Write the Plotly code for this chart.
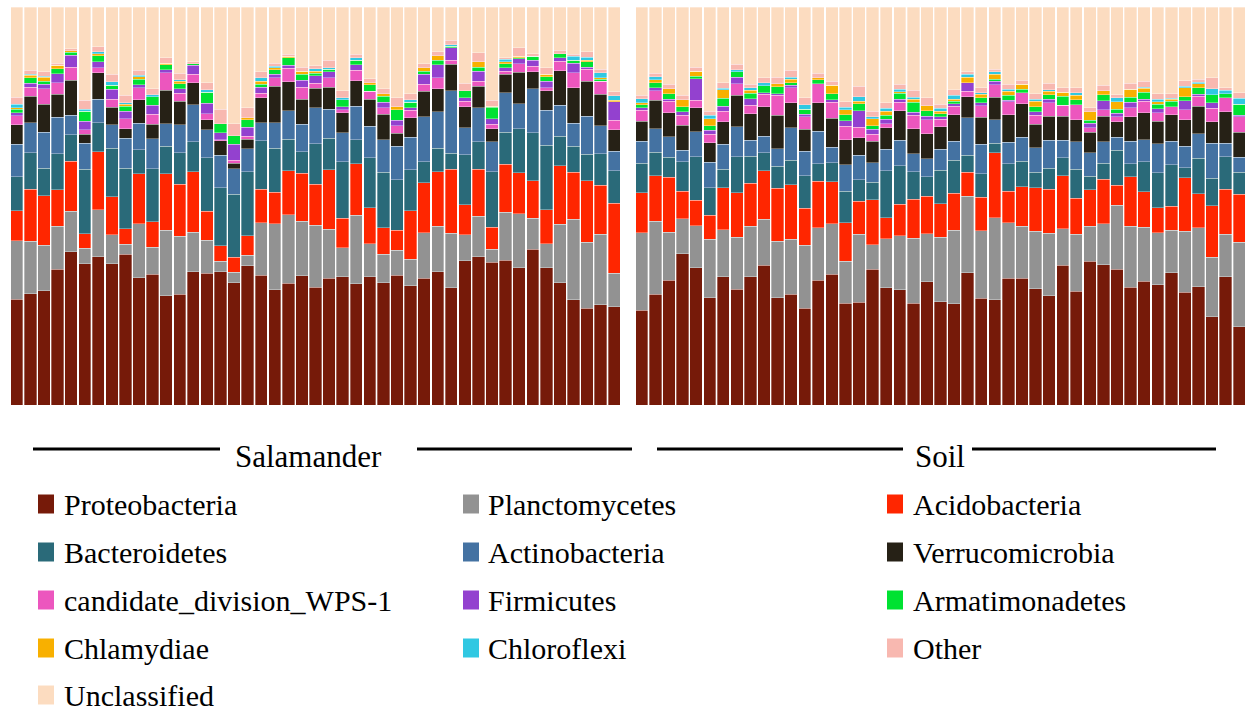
import plotly.graph_objects as go

# Relative abundance (%) of bacterial phyla per sample.
# First 45 values: salamander skin samples; last 45 values: soil samples.
groups = ["Salamander", "Soil"]
n_per_group = 45

phyla = [
    "Proteobacteria", "Planctomycetes", "Acidobacteria", "Bacteroidetes",
    "Actinobacteria", "Verrucomicrobia", "candidate_division_WPS-1",
    "Firmicutes", "Armatimonadetes", "Chlamydiae", "Chloroflexi",
    "Other", "Unclassified",
]

colors = [
    "#761a09", "#929292", "#ff2600", "#2a6a79", "#4472a2", "#262116",
    "#ec56be", "#9341cf", "#00e232", "#f8b000", "#30c8e2", "#f8b8b0",
    "#fcdcc0",
]

proteobacteria = [
    26.5, 28.0, 28.7, 34.1, 38.5, 35.4, 37.2, 35.4, 37.9, 32.0, 32.8, 27.4, 27.8, 33.5, 33.2,
    33.5, 30.7, 35.0, 32.6, 28.9, 30.5, 32.5, 29.5, 31.8, 32.2, 30.5, 32.2, 30.7, 32.6, 30.0,
    31.8, 33.5, 29.5, 36.2, 37.2, 35.8, 36.4, 34.5, 39.1, 34.5, 30.7, 26.5, 24.3, 25.1, 24.7,
    23.8, 27.8, 31.4, 38.1, 34.5, 26.9, 32.2, 29.0, 32.2, 35.1, 26.9, 27.8, 24.3, 31.4, 32.9,
    25.5, 25.9, 34.1, 29.5, 28.9, 25.5, 31.0, 25.9, 25.5, 33.2, 26.9, 26.5, 31.8, 31.8, 29.3,
    27.4, 35.1, 28.6, 36.2, 35.3, 34.1, 29.5, 31.1, 30.3, 33.2, 28.3, 29.7, 22.2, 32.2, 19.7,
]
planctomycetes = [
    14.7, 13.2, 11.5, 10.9, 10.2, 3.9, 11.9, 7.3, 2.5, 13.6, 6.8, 16.5, 14.7, 9.9, 8.2,
    2.7, 2.6, 2.7, 13.1, 16.6, 17.3, 13.7, 15.6, 12.3, 7.3, 17.2, 8.4, 7.2, 6.3, 6.7,
    11.5, 11.5, 13.6, 6.6, 10.2, 3.3, 12.0, 13.6, 7.8, 6.1, 14.7, 20.2, 16.6, 17.7, 8.4,
    19.5, 18.4, 12.0, 8.8, 10.5, 14.7, 11.9, 13.1, 12.7, 11.5, 14.3, 13.9, 15.9, 13.2, 12.7,
    10.6, 17.0, 6.1, 12.3, 13.6, 16.3, 12.0, 16.3, 18.4, 19.2, 17.0, 20.5, 14.0, 13.1, 14.4,
    15.7, 9.2, 14.3, 8.8, 10.3, 16.0, 15.4, 13.5, 13.1, 10.7, 15.4, 14.9, 14.9, 10.6, 21.2,
]
acidobacteria = [
    7.5, 13.0, 12.4, 9.2, 12.6, 3.6, 14.5, 9.6, 3.8, 12.6, 6.4, 14.2, 13.0, 15.2, 7.3,
    3.8, 3.8, 4.9, 8.4, 7.9, 11.0, 12.0, 10.3, 14.9, 7.4, 13.0, 9.0, 6.7, 5.0, 12.1,
    12.5, 13.7, 16.1, 7.5, 11.8, 5.5, 12.1, 10.2, 9.4, 8.5, 14.6, 11.9, 15.5, 12.2, 17.6,
    10.0, 11.5, 13.8, 6.9, 6.4, 6.0, 10.5, 11.2, 10.7, 12.1, 13.3, 13.7, 9.2, 11.7, 10.5,
    9.6, 8.4, 11.3, 5.3, 7.9, 9.8, 9.4, 8.4, 9.4, 6.1, 8.4, 16.4, 7.8, 10.0, 10.9,
    11.0, 13.2, 9.1, 9.1, 11.1, 5.0, 12.4, 9.0, 6.3, 6.1, 13.5, 8.5, 13.0, 11.3, 12.1,
]
bacteroidetes = [
    8.5, 9.2, 6.9, 9.0, 6.7, 16.2, 7.3, 12.1, 15.2, 6.0, 13.4, 6.9, 7.9, 7.5, 13.5,
    14.6, 15.8, 16.1, 12.2, 11.0, 7.9, 5.4, 10.2, 7.9, 14.2, 6.0, 12.6, 14.0, 12.7, 10.4,
    5.3, 5.9, 4.0, 12.6, 6.9, 14.0, 8.0, 11.1, 12.1, 16.2, 7.4, 6.5, 6.7, 7.9, 8.2,
    7.5, 5.9, 5.0, 7.4, 11.0, 6.9, 4.7, 9.0, 6.9, 4.5, 5.5, 6.1, 8.2, 4.4, 4.8,
    8.0, 5.4, 4.4, 11.7, 9.7, 6.9, 4.9, 8.4, 8.2, 4.2, 5.9, 2.4, 6.9, 6.4, 4.0,
    5.3, 4.5, 7.2, 3.4, 4.1, 8.8, 3.3, 7.5, 8.8, 10.4, 2.5, 9.0, 6.9, 8.2, 5.5,
]
actinobacteria = [
    8.2, 7.5, 9.0, 9.2, 4.9, 6.5, 5.9, 5.9, 7.5, 6.7, 7.5, 5.6, 7.1, 9.4, 7.0,
    8.2, 6.4, 5.7, 4.5, 6.5, 7.1, 6.9, 9.0, 7.3, 7.3, 8.4, 7.9, 8.1, 8.4, 8.2,
    11.3, 9.2, 15.7, 6.7, 8.6, 7.5, 10.0, 6.3, 11.1, 8.8, 7.9, 5.8, 9.5, 7.0, 4.9,
    5.5, 5.9, 5.2, 2.9, 6.3, 6.4, 6.3, 7.5, 3.9, 4.2, 4.4, 8.1, 6.2, 8.1, 3.8,
    6.6, 6.1, 4.9, 5.4, 6.4, 4.6, 4.6, 5.2, 4.8, 9.5, 7.4, 5.9, 5.4, 6.0, 6.1,
    7.1, 4.4, 7.0, 5.9, 5.3, 3.3, 5.6, 5.6, 7.3, 5.9, 5.4, 6.1, 8.8, 3.3, 3.8,
]
verrucomicrobia = [
    4.9, 6.7, 7.1, 5.7, 8.8, 2.3, 6.7, 4.4, 2.5, 5.9, 3.6, 8.4, 5.9, 5.5, 2.6,
    3.6, 1.4, 2.4, 6.3, 9.1, 7.4, 6.3, 4.9, 5.5, 5.0, 6.4, 6.8, 6.4, 3.3, 4.8,
    6.4, 5.7, 6.7, 5.4, 5.4, 3.3, 4.6, 7.9, 4.2, 5.0, 8.6, 8.9, 8.8, 7.9, 5.3,
    5.0, 7.1, 6.0, 6.3, 6.0, 4.9, 5.6, 7.9, 6.7, 7.4, 8.4, 6.4, 5.5, 7.2, 7.4,
    6.3, 4.4, 5.4, 5.4, 7.3, 6.3, 6.2, 5.7, 6.7, 5.2, 6.9, 5.6, 6.9, 8.4, 5.9,
    6.0, 6.1, 5.5, 5.2, 6.5, 3.9, 6.1, 6.7, 5.7, 6.6, 6.7, 6.9, 5.4, 7.9, 6.3,
]
wps_1 = [
    2.2, 2.3, 3.8, 2.9, 3.2, 1.1, 1.3, 2.1, 2.5, 3.0, 2.5, 4.4, 2.0, 2.1, 1.4,
    0.3, 0.8, 0.8, 1.1, 2.2, 3.3, 3.0, 1.3, 2.4, 0.8, 2.7, 2.0, 1.7, 1.9, 1.9,
    1.8, 2.8, 1.0, 1.3, 1.3, 1.1, 0.8, 2.1, 1.4, 0.7, 2.4, 3.8, 3.0, 3.3, 2.5,
    2.7, 2.5, 2.9, 2.5, 1.9, 2.1, 2.7, 2.9, 2.1, 3.1, 5.0, 3.7, 3.1, 4.8, 4.0,
    3.4, 2.6, 1.8, 1.1, 2.2, 3.3, 3.6, 1.9, 2.2, 1.4, 2.9, 3.2, 3.3, 2.8, 2.3,
    3.4, 2.8, 3.8, 1.1, 1.6, 1.3, 2.3, 2.9, 2.1, 2.1, 2.5, 2.6, 3.3, 3.6, 3.9,
]
firmicutes = [
    0.8, 1.0, 1.2, 2.3, 3.1, 2.1, 1.4, 2.4, 1.8, 0.8, 2.3, 0.8, 1.1, 2.3, 2.7,
    1.8, 4.0, 2.2, 1.5, 0.8, 0.8, 1.8, 1.9, 1.5, 0.8, 1.4, 0.0, 1.4, 1.4, 0.6,
    2.5, 3.3, 3.1, 0.9, 2.5, 1.3, 0.8, 1.3, 1.5, 1.6, 0.8, 2.4, 0.6, 0.0, 4.6,
    0.7, 0.7, 0.5, 0.8, 5.4, 1.1, 1.3, 1.7, 1.7, 0.4, 0.4, 0.7, 0.6, 0.0, 0.6,
    1.4, 4.2, 1.2, 1.1, 0.8, 0.8, 0.8, 0.6, 0.6, 2.2, 0.7, 0.8, 0.4, 0.0, 0.8,
    0.8, 0.0, 0.0, 1.2, 2.2, 0.8, 1.4, 0.5, 1.0, 0.0, 2.2, 0.4, 1.4, 0.0, 0.4,
]
armatimonadetes = [
    0.8, 1.3, 0.7, 1.3, 0.7, 2.5, 1.5, 1.1, 1.3, 1.3, 2.1, 1.2, 1.3, 0.4, 2.8,
    2.3, 2.1, 2.0, 0.8, 1.2, 1.9, 1.5, 0.6, 0.7, 1.7, 1.1, 1.7, 1.5, 2.6, 1.5,
    0.8, 1.1, 0.4, 1.7, 1.0, 2.9, 1.1, 0.3, 1.0, 1.1, 1.1, 0.7, 1.3, 0.5, 0.0,
    0.8, 1.2, 1.4, 1.3, 0.6, 1.1, 2.0, 1.3, 1.3, 1.7, 1.8, 0.6, 1.3, 1.0, 1.5,
    1.4, 1.8, 0.9, 1.0, 1.4, 2.5, 1.4, 0.8, 0.6, 0.0, 1.3, 0.5, 1.3, 0.8, 1.3,
    1.2, 2.2, 1.2, 0.7, 1.6, 1.0, 1.3, 1.8, 1.1, 1.3, 1.0, 1.7, 2.1, 1.0, 2.7,
]
chlamydiae = [
    0.5, 0.6, 1.0, 0.8, 0.4, 0.0, 0.6, 0.0, 0.5, 0.6, 0.0, 0.4, 0.6, 0.0, 0.0,
    0.0, 0.0, 0.5, 0.8, 0.4, 0.3, 0.8, 0.5, 0.0, 0.0, 0.0, 0.4, 0.6, 0.8, 0.0,
    0.8, 1.1, 0.0, 0.0, 1.3, 0.3, 0.4, 0.3, 0.0, 0.7, 0.0, 0.0, 0.4, 0.4, 0.4,
    0.4, 0.8, 1.3, 1.8, 1.3, 1.8, 2.1, 0.0, 0.8, 0.0, 0.7, 0.9, 0.0, 0.5, 2.1,
    1.3, 0.6, 1.8, 1.0, 0.4, 0.7, 1.3, 0.6, 0.5, 1.3, 0.8, 1.3, 1.0, 1.3, 1.4,
    0.9, 1.0, 1.1, 2.1, 0.9, 1.9, 1.9, 1.0, 0.6, 0.5, 2.3, 1.0, 0.0, 0.0, 0.0,
]
chloroflexi = [
    0.8, 0.3, 0.3, 0.0, 0.0, 0.5, 0.4, 0.8, 0.4, 0.4, 0.6, 0.0, 0.4, 0.0, 0.6,
    0.0, 0.0, 0.0, 0.8, 0.4, 0.0, 0.0, 0.6, 0.3, 0.5, 0.7, 0.0, 0.0, 0.0, 0.6,
    0.0, 0.0, 0.4, 0.0, 0.0, 0.0, 0.7, 0.0, 0.0, 0.0, 0.0, 1.0, 0.8, 1.2, 1.1,
    1.1, 0.7, 0.0, 0.0, 0.0, 0.8, 0.4, 0.6, 0.6, 0.8, 0.0, 0.4, 1.1, 0.0, 0.0,
    0.7, 1.1, 0.4, 0.7, 0.6, 0.6, 0.0, 0.7, 1.0, 0.8, 0.4, 0.6, 0.4, 0.0, 0.5,
    0.3, 0.0, 0.6, 0.0, 0.0, 1.0, 0.0, 0.3, 0.7, 0.3, 0.4, 0.4, 1.5, 0.8, 1.5,
]
other = [
    1.8, 1.0, 1.1, 0.6, 0.5, 2.3, 1.3, 1.9, 1.8, 1.3, 1.5, 1.3, 1.7, 0.4, 1.7,
    3.6, 3.1, 2.5, 1.5, 0.8, 0.5, 1.0, 0.7, 1.9, 1.7, 0.8, 1.1, 1.3, 2.2, 1.5,
    1.1, 1.0, 1.1, 2.0, 2.3, 1.5, 0.4, 2.1, 0.7, 1.6, 0.8, 0.5, 1.3, 0.9, 1.0,
    0.8, 1.0, 1.1, 1.1, 1.0, 1.0, 1.3, 1.3, 0.9, 1.3, 1.7, 1.8, 1.8, 1.2, 1.0,
    1.3, 2.7, 1.4, 1.5, 1.3, 1.7, 2.0, 1.1, 1.4, 0.6, 1.3, 0.7, 1.3, 1.0, 1.4,
    1.7, 1.1, 1.3, 1.0, 1.4, 0.8, 1.6, 1.5, 1.4, 1.1, 1.3, 0.7, 2.7, 0.6, 1.4,
]
unclassified = [
    22.6, 15.9, 16.3, 14.1, 10.5, 23.4, 10.0, 16.9, 22.2, 15.9, 20.5, 12.8, 16.6, 13.8, 19.1,
    25.7, 29.3, 25.3, 16.3, 14.1, 11.9, 15.1, 14.8, 13.4, 21.1, 11.9, 18.0, 20.5, 22.8, 21.8,
    14.2, 11.3, 8.4, 19.1, 11.5, 23.4, 12.7, 10.3, 11.7, 15.3, 10.9, 11.9, 11.3, 15.6, 21.3,
    22.2, 16.6, 19.4, 22.2, 15.1, 26.2, 19.1, 14.4, 19.4, 17.7, 17.6, 15.9, 22.8, 16.6, 18.7,
    23.8, 19.9, 26.2, 24.0, 19.4, 20.9, 22.8, 24.4, 20.8, 16.3, 20.3, 15.6, 19.4, 18.4, 21.8,
    19.1, 20.3, 20.3, 25.4, 19.7, 22.0, 19.1, 18.6, 21.8, 21.8, 18.6, 18.2, 17.8, 20.3, 21.6,
]

abundance = [
    proteobacteria, planctomycetes, acidobacteria, bacteroidetes,
    actinobacteria, verrucomicrobia, wps_1, firmicutes, armatimonadetes,
    chlamydiae, chloroflexi, other, unclassified,
]

samples = [f"{g[:2].upper()}{i + 1:02d}" for g in groups for i in range(n_per_group)]

W, H = 1246, 715
PLOT_TOP, PLOT_BOTTOM = 7, 405
FONT = "Liberation Serif, Times New Roman, serif"


def px_x(x):
    return x / W


def px_y(y):
    return (PLOT_BOTTOM - y) / (PLOT_BOTTOM - PLOT_TOP)


fig = go.Figure()
for name, color, values in zip(phyla, colors, abundance):
    for gi, axis in enumerate(["x", "x2"]):
        lo, hi = gi * n_per_group, (gi + 1) * n_per_group
        fig.add_trace(go.Bar(
            x=samples[lo:hi], y=values[lo:hi], name=name,
            xaxis=axis, yaxis="y", legendgroup=name, showlegend=False,
            marker=dict(color=color, line=dict(color="rgba(255,255,255,0.55)", width=0.6)),
            hoverinfo="x+y+name",
        ))

shapes, annotations = [], []

# group labels with rules on either side
group_rules = {
    "Salamander": ([(33, 220), (417, 632)], 308),
    "Soil": ([(657, 903), (972, 1216)], 940),
}
for label, (segments, cx) in group_rules.items():
    for x0, x1 in segments:
        shapes.append(dict(type="line", xref="paper", yref="paper",
                           x0=px_x(x0), x1=px_x(x1), y0=px_y(449), y1=px_y(449),
                           line=dict(color="black", width=3)))
    annotations.append(dict(text=label, xref="paper", yref="paper",
                            x=px_x(cx), y=px_y(456), xanchor="center", yanchor="middle",
                            showarrow=False, font=dict(family=FONT, size=31, color="black")))

# three-column key
col_swatch = [38, 463, 887]
col_text = [62, 486, 911]
row_y = [504, 552, 600, 648, 695]
for i, (name, color) in enumerate(zip(phyla, colors)):
    r, c = divmod(i, 3)
    cy = row_y[r]
    shapes.append(dict(type="rect", xref="paper", yref="paper",
                       x0=px_x(col_swatch[c]), x1=px_x(col_swatch[c] + 16),
                       y0=px_y(cy + 9.5), y1=px_y(cy - 9.5),
                       fillcolor=color, line=dict(width=0)))
    annotations.append(dict(text=name, xref="paper", yref="paper",
                            x=px_x(col_text[c]), y=px_y(cy), xanchor="left", yanchor="middle",
                            showarrow=False, font=dict(family=FONT, size=30, color="black")))

fig.update_layout(
    width=W, height=H,
    margin=dict(l=0, r=0, t=PLOT_TOP, b=H - PLOT_BOTTOM, pad=0),
    barmode="stack", barnorm="percent", bargap=0.09,
    paper_bgcolor="white", plot_bgcolor="white",
    showlegend=False,
    xaxis=dict(domain=[px_x(10), px_x(621)], visible=False, anchor="y"),
    xaxis2=dict(domain=[px_x(635), px_x(1246)], visible=False, anchor="y"),
    yaxis=dict(range=[0, 100], visible=False),
    shapes=shapes, annotations=annotations,
)

fig.write_html("out.html")
